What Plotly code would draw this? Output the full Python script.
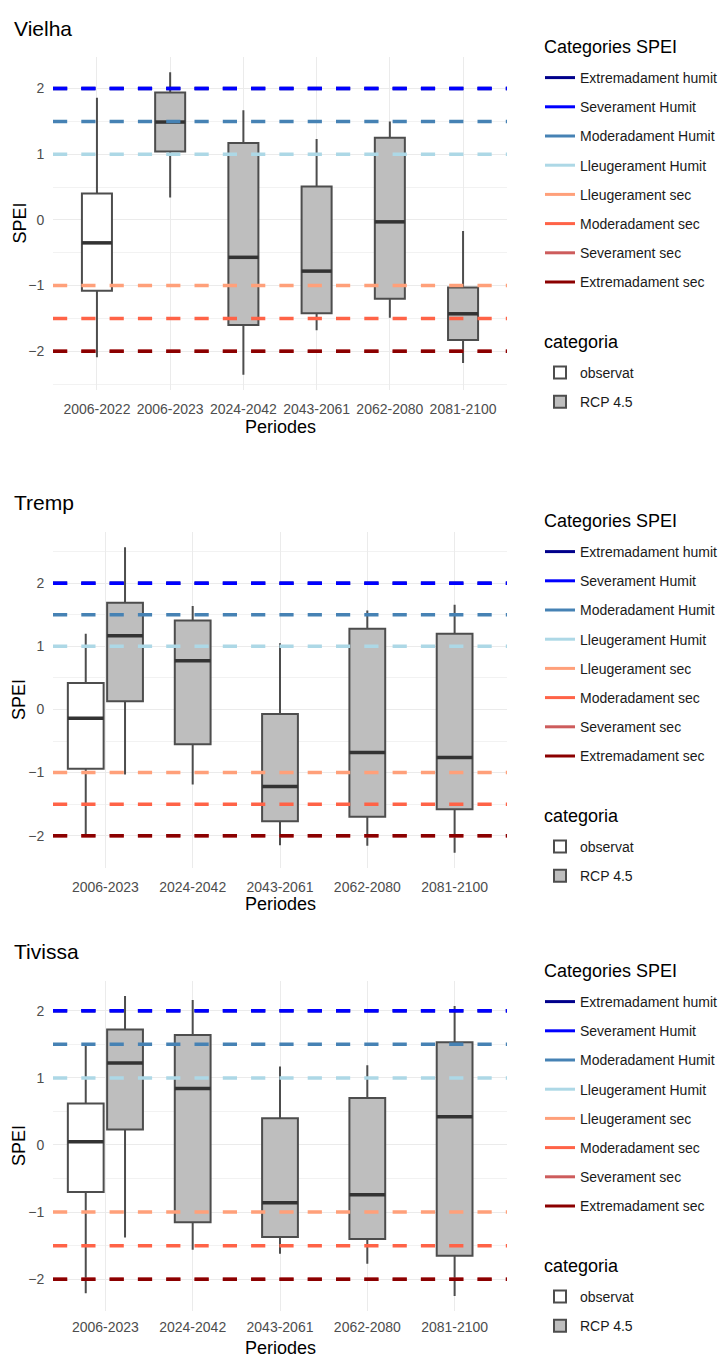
import plotly.graph_objects as go

# ---------------------------------------------------------------- data
spei_categories = ["Extremadament humit", "Severament Humit", "Moderadament Humit",
                   "Lleugerament Humit", "Lleugerament sec", "Moderadament sec",
                   "Severament sec", "Extremadament sec"]
spei_thresholds = [2, 2, 1.5, 1, -1, -1.5, -2, -2]
spei_colors = ["#00008B", "#0000FF", "#4682B4", "#ADD8E6",
               "#FFA07A", "#FF6347", "#CD5C5C", "#8B0000"]

sites = ["Vielha", "Tremp", "Tivissa"]

# Vielha
vielha_periods = ["2006-2022", "2006-2023", "2024-2042", "2043-2061", "2062-2080", "2081-2100"]
vielha_obs_periods = ["2006-2022"]
vielha_obs_lower = [-2.09]
vielha_obs_q1 = [-1.08]
vielha_obs_median = [-0.35]
vielha_obs_q3 = [0.40]
vielha_obs_upper = [1.86]
vielha_rcp_periods = ["2006-2023", "2024-2042", "2043-2061", "2062-2080", "2081-2100"]
vielha_rcp_lower = [0.34, -2.36, -1.68, -1.49, -2.18]
vielha_rcp_q1 = [1.04, -1.60, -1.42, -1.20, -1.83]
vielha_rcp_median = [1.49, -0.57, -0.78, -0.03, -1.43]
vielha_rcp_q3 = [1.94, 1.17, 0.51, 1.25, -1.03]
vielha_rcp_upper = [2.25, 1.67, 1.23, 1.50, -0.17]

# Tremp
tremp_periods = ["2006-2023", "2024-2042", "2043-2061", "2062-2080", "2081-2100"]
tremp_obs_periods = ["2006-2023"]
tremp_obs_lower = [-1.99]
tremp_obs_q1 = [-0.94]
tremp_obs_median = [-0.14]
tremp_obs_q3 = [0.42]
tremp_obs_upper = [1.20]
tremp_rcp_periods = ["2006-2023", "2024-2042", "2043-2061", "2062-2080", "2081-2100"]
tremp_rcp_lower = [-1.03, -1.19, -2.15, -2.16, -2.27]
tremp_rcp_q1 = [0.13, -0.55, -1.77, -1.70, -1.58]
tremp_rcp_median = [1.17, 0.77, -1.22, -0.68, -0.76]
tremp_rcp_q3 = [1.69, 1.41, -0.07, 1.28, 1.20]
tremp_rcp_upper = [2.57, 1.64, 1.05, 1.57, 1.66]

# Tivissa
tivissa_periods = ["2006-2023", "2024-2042", "2043-2061", "2062-2080", "2081-2100"]
tivissa_obs_periods = ["2006-2023"]
tivissa_obs_lower = [-2.21]
tivissa_obs_q1 = [-0.70]
tivissa_obs_median = [0.05]
tivissa_obs_q3 = [0.62]
tivissa_obs_upper = [1.50]
tivissa_rcp_periods = ["2006-2023", "2024-2042", "2043-2061", "2062-2080", "2081-2100"]
tivissa_rcp_lower = [-1.38, -1.56, -1.62, -1.77, -2.25]
tivissa_rcp_q1 = [0.23, -1.15, -1.37, -1.40, -1.65]
tivissa_rcp_median = [1.22, 0.84, -0.86, -0.74, 0.42]
tivissa_rcp_q3 = [1.72, 1.64, 0.40, 0.70, 1.53]
tivissa_rcp_upper = [2.22, 2.16, 1.17, 1.19, 2.07]

panels = [
    dict(periods=vielha_periods,
         obs=(vielha_obs_periods, vielha_obs_lower, vielha_obs_q1, vielha_obs_median, vielha_obs_q3, vielha_obs_upper),
         rcp=(vielha_rcp_periods, vielha_rcp_lower, vielha_rcp_q1, vielha_rcp_median, vielha_rcp_q3, vielha_rcp_upper)),
    dict(periods=tremp_periods,
         obs=(tremp_obs_periods, tremp_obs_lower, tremp_obs_q1, tremp_obs_median, tremp_obs_q3, tremp_obs_upper),
         rcp=(tremp_rcp_periods, tremp_rcp_lower, tremp_rcp_q1, tremp_rcp_median, tremp_rcp_q3, tremp_rcp_upper)),
    dict(periods=tivissa_periods,
         obs=(tivissa_obs_periods, tivissa_obs_lower, tivissa_obs_q1, tivissa_obs_median, tivissa_obs_q3, tivissa_obs_upper),
         rcp=(tivissa_rcp_periods, tivissa_rcp_lower, tivissa_rcp_q1, tivissa_rcp_median, tivissa_rcp_q3, tivissa_rcp_upper)),
]

# ---------------------------------------------------------------- layout constants
W, H = 726, 1359
FONT = "Liberation Sans, Arial, sans-serif"
BOX_W = 0.41
DODGE = 0.225
GRID = "#EBEBEB"
TICK = "#4D4D4D"

# pixel geometry of each panel:
# (title centre, plot top, plot bottom, x tick length, x-title position, x-title anchor)
panel_px = [
    (28, 57, 390, 6, 427, "middle"),
    (502, 532, 868, 6, 904, "middle"),
    (952, 981, 1311, 3, 1360, "bottom"),
]
X_LEFT, X_RIGHT = 53, 507
LEGEND_X = 540
LEGEND_TITLE_X = 542


def py(px):
    return 1 - px / H


def text_note(text, x_px, y_px, size, color="#000000", xanchor="left", yanchor="middle", angle=0):
    return dict(text=text, x=x_px / W, y=py(y_px), xref="paper", yref="paper",
                xanchor=xanchor, yanchor=yanchor, showarrow=False, textangle=angle,
                font=dict(family=FONT, size=size, color=color))


fig = go.Figure()
annotations = []
shapes = []

for i, (site, p) in enumerate(zip(sites, panels)):
    sfx = "" if i == 0 else str(i + 1)
    xa, ya = "x" + sfx, "y" + sfx
    lines_legend = "legend" if i == 0 else f"legend{2 * i + 1}"
    box_legend = f"legend{2 * i + 2}"
    periods = p["periods"]

    obs_periods = p["obs"][0]
    rcp_periods = p["rcp"][0]

    def positions(plist, side):
        out = []
        for per in plist:
            both = per in obs_periods and per in rcp_periods
            out.append(periods.index(per) + (side * DODGE if both else 0))
        return out

    for key, name, fill, side in [("obs", "observat", "#FFFFFF", -1), ("rcp", "RCP 4.5", "#BEBEBE", 1)]:
        plist, lo, q1, med, q3, hi = p[key]
        xs = positions(plist, side)
        fig.add_trace(go.Box(
            x=xs, lowerfence=lo, q1=q1, median=med, q3=q3, upperfence=hi,
            name=name, width=BOX_W, fillcolor=fill,
            line=dict(color="#4D4D4D", width=2), whiskerwidth=0,
            boxpoints=False, hoverinfo="skip",
            xaxis=xa, yaxis=ya, legend=box_legend, legendgroup=f"{site}-{name}",
            showlegend=True,
        ))
        # thicker median bars drawn on top of each box
        mx, my = [], []
        for xv, mv in zip(xs, med):
            mx += [xv - BOX_W / 2, xv + BOX_W / 2, None]
            my += [mv, mv, None]
        fig.add_trace(go.Scatter(
            x=mx, y=my, mode="lines", line=dict(color="#333333", width=3.5),
            showlegend=False, hoverinfo="skip", xaxis=xa, yaxis=ya,
        ))

    # legend entries for the SPEI category reference lines
    for k, (cat, col) in enumerate(zip(spei_categories, spei_colors)):
        fig.add_trace(go.Scatter(
            x=[None], y=[None], mode="lines", name=cat,
            line=dict(color=col, width=3),
            legend=lines_legend, legendgroup=f"{site}-{k}", showlegend=True,
            xaxis=xa, yaxis=ya,
        ))

    # dashed SPEI reference lines across the panel
    for thr, col in zip(spei_thresholds, spei_colors):
        shapes.append(dict(
            type="line", xref=f"{xa} domain", x0=0, x1=1, yref=ya, y0=thr, y1=thr,
            line=dict(color=col, width=3.5, dash="14.2px,14.1px"), layer="above",
        ))

    # y range: whisker extent expanded by 5 %
    lows = list(p["obs"][1]) + list(p["rcp"][1])
    highs = list(p["obs"][5]) + list(p["rcp"][5])
    ymin, ymax = min(lows), max(highs)
    pad = 0.05 * (ymax - ymin)

    t_px, top_px, bot_px, xtick_len, xt_px, xt_anchor = panel_px[i]
    xdom = [X_LEFT / W, X_RIGHT / W]
    ydom = [py(bot_px), py(top_px)]

    fig.layout["xaxis" + sfx] = dict(
        domain=xdom, anchor=ya, range=[-0.6, len(periods) - 0.4],
        tickvals=list(range(len(periods))), ticktext=periods,
        showgrid=True, gridcolor=GRID, gridwidth=1.2, zeroline=False, showline=False,
        ticks="outside", ticklen=xtick_len, tickcolor="rgba(0,0,0,0)",
        tickfont=dict(family=FONT, size=14, color=TICK),
        fixedrange=True,
    )
    fig.layout["yaxis" + sfx] = dict(
        domain=ydom, anchor=xa, range=[ymin - pad, ymax + pad],
        dtick=1, tick0=0, showgrid=True, gridcolor=GRID, gridwidth=1.2,
        zeroline=False, showline=False,
        minor=dict(dtick=0.5, tick0=0, showgrid=True, gridcolor="#F2F2F2", gridwidth=0.8),
        ticks="outside", ticklen=5, tickcolor="rgba(0,0,0,0)",
        tickfont=dict(family=FONT, size=14, color=TICK),
        fixedrange=True,
    )

    # panel title, axis titles and legend headings
    annotations.append(text_note(site, 12, t_px, 21))
    annotations.append(text_note("Periodes", (X_LEFT + X_RIGHT) / 2, xt_px, 18,
                                 xanchor="center", yanchor=xt_anchor))
    annotations.append(text_note("SPEI", 19, (top_px + bot_px) / 2, 18, xanchor="center", angle=-90))
    annotations.append(text_note("Categories SPEI", LEGEND_TITLE_X, t_px + 19, 18))
    annotations.append(text_note("categoria", LEGEND_TITLE_X, t_px + 314, 18))

    fig.layout[lines_legend] = dict(
        x=LEGEND_X / W, y=py(t_px + 34), xanchor="left", yanchor="top",
        font=dict(family=FONT, size=14, color="#1A1A1A"),
        traceorder="grouped", tracegroupgap=8, bgcolor="rgba(0,0,0,0)",
        itemclick=False, itemdoubleclick=False,
    )
    fig.layout[box_legend] = dict(
        x=LEGEND_X / W, y=py(t_px + 329), xanchor="left", yanchor="top",
        font=dict(family=FONT, size=14, color="#1A1A1A"),
        traceorder="grouped", tracegroupgap=8, bgcolor="rgba(0,0,0,0)",
        itemclick=False, itemdoubleclick=False,
    )

fig.update_layout(
    width=W, height=H, margin=dict(l=0, r=0, t=0, b=0),
    paper_bgcolor="#FFFFFF", plot_bgcolor="#FFFFFF",
    boxmode="overlay", annotations=annotations, shapes=shapes,
    font=dict(family=FONT),
)

fig.write_html("out.html")
